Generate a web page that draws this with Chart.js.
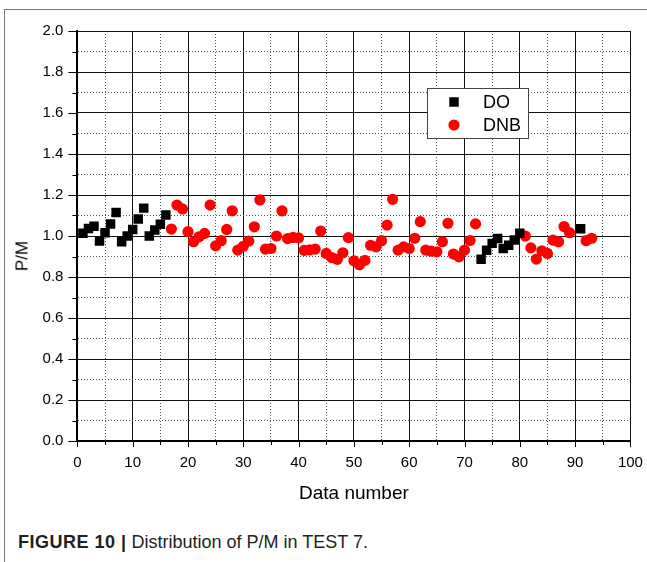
<!DOCTYPE html>
<html><head><meta charset="utf-8">
<script src="https://cdn.jsdelivr.net/npm/chart.js@4.4.0/dist/chart.umd.min.js"></script>
<style>
html,body{margin:0;padding:0;background:#fff;width:647px;height:562px;overflow:hidden;position:relative;font-family:"Liberation Sans",Arial,sans-serif;}
#frame{position:absolute;left:4px;top:9px;width:700px;height:600px;border-left:1px solid #777;border-top:1px solid #777;}
#wrap{position:absolute;left:0;top:0;width:647px;height:520px;}
#ytitle{position:absolute;left:21.5px;top:256px;transform:translate(-50%,-50%) rotate(-90deg);font-size:17px;line-height:1;color:#000;white-space:nowrap;}
#caption{position:absolute;left:18px;top:532px;font-size:18px;line-height:21px;color:#231f20;white-space:nowrap;}
#caption b{letter-spacing:0.5px;}
</style></head><body>
<div id="frame"></div>
<div id="wrap"><canvas id="c" width="647" height="520"></canvas></div>
<div id="ytitle">P/M</div>
<div id="caption"><b>FIGURE 10 |</b> Distribution of P/M in TEST 7.</div>
<script>
// Data number (x) and P/M (y) for each series
const doNumbers = [1,2,3,4,5,6,7,8,9,10,11,12,13,14,15,16,73,74,75,76,77,78,79,80,91];
const doValues  = [1.013,1.037,1.048,0.975,1.016,1.058,1.115,0.972,1.000,1.032,1.083,1.136,1.000,1.029,1.057,1.102,
                   0.887,0.931,0.964,0.988,0.939,0.955,0.980,1.013,1.035];
const dnbNumbers = [17,18,19,20,21,22,23,24,25,26,27,28,29,30,31,32,33,34,35,36,37,38,39,40,
                    41,42,43,44,45,46,47,48,49,50,51,52,53,54,55,56,57,58,59,60,61,62,63,64,
                    65,66,67,68,69,70,71,72,81,82,83,84,85,86,87,88,89,92,93];
const dnbValues  = [1.034,1.151,1.132,1.021,0.972,0.996,1.013,1.151,0.952,0.977,1.032,1.123,0.931,0.950,0.975,1.045,
                    1.176,0.936,0.939,1.000,1.123,0.987,0.993,0.991,
                    0.930,0.932,0.936,1.024,0.915,0.895,0.886,0.918,0.992,0.879,0.860,0.881,0.955,0.947,0.977,1.053,
                    1.179,0.931,0.947,0.939,0.989,1.070,0.931,0.926,
                    0.923,0.972,1.062,0.912,0.898,0.931,0.978,1.059,1.000,0.942,0.887,0.928,0.915,0.980,0.972,1.046,
                    1.016,0.977,0.989];
const seriesNames = ['DO','DNB'];
const xTickLabels = ['0','10','20','30','40','50','60','70','80','90','100'];
const yTickLabels = ['0.0','0.2','0.4','0.6','0.8','1.0','1.2','1.4','1.6','1.8','2.0'];

const FONT = '"Liberation Sans", Arial, sans-serif';
const isMajorY = v => Math.round(v*10) % 2 === 0;
const isMajorX = v => Math.round(v) % 10 === 0;

const tickPlugin = {
  id:'minorTicks',
  afterDraw(chart){
    const {ctx, chartArea:a, scales:{x,y}} = chart;
    ctx.save();
    ctx.strokeStyle = '#000'; ctx.lineWidth = 1;
    y.ticks.forEach(t=>{
      const py = Math.round(y.getPixelForValue(t.value)) + 0.5;
      const len = isMajorY(t.value) ? 9 : 5;
      ctx.beginPath(); ctx.moveTo(a.left - len, py); ctx.lineTo(a.left, py); ctx.stroke();
    });
    x.ticks.forEach(t=>{
      const px = Math.round(x.getPixelForValue(t.value)) + 0.5;
      const len = isMajorX(t.value) ? 6 : 4;
      ctx.beginPath(); ctx.moveTo(px, a.bottom); ctx.lineTo(px, a.bottom + len); ctx.stroke();
    });
    ctx.restore();
  }
};

const legendPlugin = {
  id:'boxLegend',
  afterDatasetsDraw(chart){
    const {ctx} = chart;
    const L = 427.5, T = 88.5, W = 101, H = 50;
    ctx.save();
    ctx.fillStyle = '#fff'; ctx.fillRect(L, T, W, H);
    ctx.strokeStyle = '#444'; ctx.lineWidth = 1; ctx.strokeRect(L, T, W, H);
    const ds = chart.data.datasets;
    const rows = [102, 125];
    ds.forEach((d,i)=>{
      ctx.fillStyle = d.backgroundColor;
      ctx.beginPath();
      if (d.pointStyle === 'rect') { const s = d.pointRadius*Math.SQRT1_2; ctx.rect(454-s, rows[i]-s, 2*s, 2*s); }
      else { ctx.arc(454, rows[i], d.pointRadius, 0, Math.PI*2); }
      ctx.fill();
      ctx.fillStyle = '#000';
      ctx.font = '18px ' + FONT;
      ctx.textBaseline = 'middle'; ctx.textAlign = 'left';
      ctx.fillText(d.label, 483, rows[i] + 1);
    });
    ctx.restore();
  }
};

new Chart(document.getElementById('c'), {
  type:'scatter',
  data:{datasets:[
    {label:seriesNames[0], data:doNumbers.map((n,i)=>({x:n, y:doValues[i]})), pointStyle:'rect',
     pointRadius:6.7, pointHoverRadius:6.7, backgroundColor:'#000', borderColor:'#000', pointBorderWidth:0},
    {label:seriesNames[1], data:dnbNumbers.map((n,i)=>({x:n, y:dnbValues[i]})), pointStyle:'circle',
     pointRadius:5.6, pointHoverRadius:5.6, backgroundColor:'#ff0000', borderColor:'#ff0000', pointBorderWidth:0}
  ]},
  options:{
    responsive:false, animation:false, devicePixelRatio:1,
    layout:{padding:{left:0, top:31, right:16.6, bottom:0}},
    plugins:{legend:{display:false}, tooltip:{enabled:false}},
    scales:{
      x:{type:'linear', min:0, max:100,
        afterFit(s){ s.height = 79; },
        ticks:{stepSize:5, autoSkip:false, maxRotation:0, padding:4, color:'#000',
          font:{size:15, family:FONT},
          callback:v => isMajorX(v) ? xTickLabels[Math.round(v/10)] : ''},
        grid:{drawTicks:true, tickLength:9, tickColor:'rgba(0,0,0,0)', lineWidth:1,
          color:c => (c.tick && isMajorX(c.tick.value)) ? '#111' : '#555'},
        border:{color:'#000', width:2, dash:c => (c.tick && !isMajorX(c.tick.value)) ? [1,2] : []},
        title:{display:true, text:'Data number', color:'#000', font:{size:19, family:FONT}, padding:{top:0, bottom:15}}
      },
      y:{type:'linear', min:0, max:2,
        afterFit(s){ s.width = 77.4; },
        ticks:{stepSize:0.1, autoSkip:false, padding:5, color:'#000',
          font:{size:15, family:FONT},
          callback:v => isMajorY(v) ? yTickLabels[Math.round(v*5)] : ''},
        grid:{drawTicks:true, tickLength:9, tickColor:'rgba(0,0,0,0)', lineWidth:1,
          color:c => (c.tick && isMajorY(c.tick.value)) ? '#111' : '#555'},
        border:{color:'#000', width:2, dash:c => (c.tick && !isMajorY(c.tick.value)) ? [1,2] : []},
        title:{display:false}
      }
    }
  },
  plugins:[tickPlugin, legendPlugin]
});
</script>
</body></html>
